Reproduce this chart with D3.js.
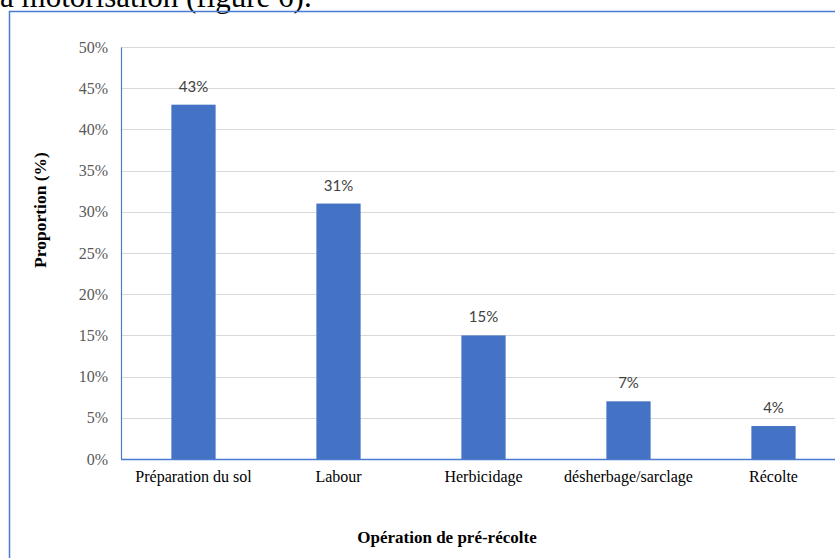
<!DOCTYPE html>
<html>
<head>
<meta charset="utf-8">
<script src="https://cdn.jsdelivr.net/npm/d3@7"></script>
<style>
  html, body { margin: 0; padding: 0; background: #ffffff; overflow: hidden; }
  svg { display: block; }
</style>
</head>
<body>
<svg id="chart" width="835" height="558"></svg>
<script>
// Operations and their share of respondents (%)
const categories = ["Préparation du sol", "Labour", "Herbicidage", "désherbage/sarclage", "Récolte"];
const values = [43, 31, 15, 7, 4];
const yTicks = [0, 5, 10, 15, 20, 25, 30, 35, 40, 45, 50];
const caption = "la motorisation (figure 6).";
const xTitle = "Opération de pré-récolte";
const yTitle = "Proportion (%)";

const svg = d3.select("#chart");
const W = 835, H = 558;
const plot = { left: 121, top: 47, right: 846, bottom: 459 };

// Running text of the document above the figure
svg.append("text")
  .attr("x", -8.6).attr("y", 7)
  .attr("font-family", "'Liberation Serif', 'Times New Roman', serif")
  .attr("font-size", 31)
  .attr("fill", "#000")
  .text(caption);

// Figure frame
svg.append("rect")
  .attr("x", 9.5).attr("y", 11.5)
  .attr("width", 900).attr("height", 600)
  .attr("fill", "none")
  .attr("stroke", "#4a7bd0")
  .attr("stroke-width", 1.5);

const x = d3.scaleBand()
  .domain(categories)
  .range([plot.left, plot.right])
  .paddingInner(0.695)
  .paddingOuter(0.3475);

const y = d3.scaleLinear()
  .domain([0, 50])
  .range([plot.bottom, plot.top]);

// Horizontal gridlines
svg.append("g")
  .selectAll("line")
  .data(yTicks.filter(t => t > 0))
  .join("line")
  .attr("x1", plot.left).attr("x2", W)
  .attr("y1", d => Math.round(y(d)) + 0.5)
  .attr("y2", d => Math.round(y(d)) + 0.5)
  .attr("stroke", "#d9d9d9")
  .attr("stroke-width", 1.2);

// Y axis with percentage labels
const yAxis = svg.append("g")
  .attr("transform", `translate(${plot.left},0)`)
  .call(d3.axisLeft(y).tickValues(yTicks).tickSize(0).tickPadding(13).tickFormat(d => d + "%"));
yAxis.select(".domain").attr("stroke", "#4a7bd0").attr("stroke-width", 1.2);
yAxis.selectAll("text")
  .attr("font-family", "'Liberation Serif', 'Times New Roman', serif")
  .attr("font-size", 16)
  .attr("fill", "#595959");

// Bars
svg.append("g")
  .selectAll("rect")
  .data(values)
  .join("rect")
  .attr("x", (d, i) => x(categories[i]))
  .attr("y", d => y(d))
  .attr("width", x.bandwidth())
  .attr("height", d => y(0) - y(d))
  .attr("fill", "#4472c4");

// Value labels
svg.append("g")
  .selectAll("text")
  .data(values)
  .join("text")
  .attr("x", (d, i) => x(categories[i]) + x.bandwidth() / 2)
  .attr("y", d => y(d) - 13)
  .attr("text-anchor", "middle")
  .attr("font-family", "Lato, 'Open Sans', sans-serif")
  .attr("font-size", 15)
  .attr("fill", "#404040")
  .text(d => d + "%");

// X axis with category labels
const xAxis = svg.append("g")
  .attr("transform", `translate(0,${plot.bottom})`)
  .call(d3.axisBottom(x).tickSize(0).tickPadding(12));
xAxis.select(".domain").remove();
xAxis.append("line")
  .attr("x1", plot.left).attr("x2", W)
  .attr("y1", 0.5).attr("y2", 0.5)
  .attr("stroke", "#4a7bd0").attr("stroke-width", 1.5);
xAxis.selectAll("text")
  .attr("font-family", "'Liberation Serif', 'Times New Roman', serif")
  .attr("font-size", 16)
  .attr("fill", "#000");

// Axis titles
svg.append("text")
  .attr("x", 447).attr("y", 543)
  .attr("text-anchor", "middle")
  .attr("font-family", "'Liberation Serif', 'Times New Roman', serif")
  .attr("font-weight", "bold")
  .attr("font-size", 17)
  .attr("fill", "#000")
  .text(xTitle);

svg.append("text")
  .attr("transform", "translate(46,210) rotate(-90)")
  .attr("text-anchor", "middle")
  .attr("font-family", "'Liberation Serif', 'Times New Roman', serif")
  .attr("font-weight", "bold")
  .attr("font-size", 17.5)
  .attr("fill", "#000")
  .text(yTitle);
</script>
</body>
</html>
